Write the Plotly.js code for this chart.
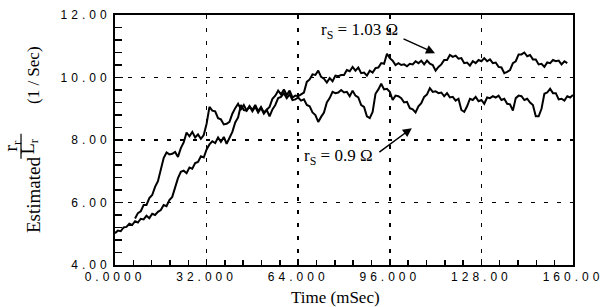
<!DOCTYPE html>
<html>
<head>
<meta charset="utf-8">
<script src="https://cdn.plot.ly/plotly-3.0.1.min.js"></script>
<style>
  html, body { margin: 0; padding: 0; background: #fff; }
  .xtick text, .ytick text { letter-spacing: 4px; }
</style>
</head>
<body>
<div id="chart" style="width:603px;height:307px;"></div>
<script>
// ---- data ----
// series rs = 0.9 ohm, sampled every 1 ms from t = 0
var startRs09 = 0;
var rs09 = [
5.02,5.10,5.08,5.20,5.22,5.32,5.28,5.40,5.36,5.48,
5.46,5.58,5.50,5.64,5.60,5.70,5.76,5.92,5.88,6.08,
6.18,6.48,6.78,6.98,7.02,6.94,7.12,7.08,7.26,7.30,
7.48,7.44,7.70,7.86,7.96,7.90,8.08,7.94,8.10,7.88,
8.08,8.26,8.56,8.72,9.12,8.96,8.94,9.08,8.92,9.06,
8.88,9.02,8.84,8.96,8.76,8.98,9.12,9.34,9.38,9.50,
9.34,9.46,9.28,9.30,9.36,9.26,9.30,9.12,9.08,8.88,
8.80,8.58,8.74,8.88,9.20,9.34,9.54,9.50,9.52,9.60,
9.52,9.54,9.40,9.58,9.42,9.36,9.12,9.06,8.76,8.70,
8.90,9.48,9.62,9.80,9.62,9.64,9.54,9.28,9.42,9.40,
9.34,9.20,9.22,9.02,8.98,8.88,9.08,9.18,9.38,9.46,
9.66,9.54,9.56,9.50,9.52,9.40,9.50,9.36,9.38,9.26,
9.32,8.96,8.90,9.08,9.32,9.28,9.38,9.24,9.28,9.16,
9.36,9.34,9.40,9.36,9.42,9.28,9.32,9.16,9.14,8.94,
9.34,9.42,9.40,9.28,9.32,9.20,9.12,8.76,8.76,9.00,
9.48,9.52,9.64,9.50,9.50,9.30,9.32,9.26,9.40,9.36,
9.44
];
// series rs = 1.03 ohm, sampled every 1 ms from t = 7
var startRs103 = 7;
var rs103 = [
5.49,5.66,5.72,5.92,5.92,6.14,6.24,6.50,6.68,7.10,
7.42,7.60,7.54,7.56,7.62,7.46,7.74,7.92,8.24,8.12,
8.26,8.08,8.18,8.04,8.16,8.52,9.06,8.94,8.92,8.70,
8.66,8.50,8.52,8.58,8.84,9.02,9.16,8.98,9.12,8.94,
9.08,8.96,9.12,8.92,9.06,8.88,8.98,9.06,9.32,9.42,
9.58,9.46,9.62,9.44,9.58,9.36,9.42,9.40,9.46,9.52,
9.86,9.94,10.10,10.08,10.22,10.02,9.96,9.84,9.98,9.88,
10.06,10.04,10.08,10.08,10.24,10.20,10.34,10.22,10.32,10.14,
10.16,10.06,10.22,10.16,10.30,10.32,10.46,10.44,10.76,10.62,
10.54,10.40,10.46,10.40,10.42,10.36,10.44,10.42,10.52,10.46,
10.54,10.42,10.54,10.44,10.40,10.22,10.34,10.42,10.56,10.56,
10.72,10.66,10.70,10.60,10.62,10.46,10.48,10.38,10.52,10.46,
10.56,10.52,10.62,10.52,10.58,10.46,10.48,10.34,10.32,10.14,
10.18,10.24,10.46,10.52,10.74,10.74,10.80,10.68,10.72,10.58,
10.58,10.42,10.44,10.34,10.48,10.46,10.56,10.52,10.54,10.42,
10.52,10.46
];
var sampleStep = 1; // ms

var xTickVals = [0, 32, 64, 96, 128, 160];
var xTickText = ["0.0000", "32.000", "64.000", "96.000", "128.00", "160.00"];
var yTickVals = [4, 6, 8, 10, 12];
var yTickText = ["4.00", "6.00", "8.00", "10.00", "12.00"];

var labelTop = "r<sub>S</sub> = 1.03 \u03A9";
var labelBottom = "r<sub>S</sub> = 0.9 \u03A9";
var xTitle = "Time (mSec)";
var yTitleWord = "Estimated";
var yTitleNum = "r<sub>r</sub>";
var yTitleDen = "L<sub>r</sub>";
var yTitleUnit = "(1 / Sec)";

// ---- build traces ----
function times(start, n) {
  var t = [];
  for (var i = 0; i < n; i++) t.push(start + i * sampleStep);
  return t;
}

var serif = "Liberation Serif, Times New Roman, serif";
var lineStyle = { color: "#000", width: 2 };

var traces = [
  { x: times(startRs09, rs09.length), y: rs09, type: "scatter", mode: "lines",
    line: lineStyle, hoverinfo: "skip", showlegend: false },
  { x: times(startRs103, rs103.length), y: rs103, type: "scatter", mode: "lines",
    line: lineStyle, hoverinfo: "skip", showlegend: false }
];

var axisCommon = {
  showline: true, linecolor: "#000", linewidth: 2, mirror: true,
  ticks: "inside", tickcolor: "#000", tickwidth: 1.5,
  showgrid: true, gridcolor: "#000", gridwidth: 1.5, griddash: "4px,9px",
  zeroline: false, tickmode: "array", ticklabeloverflow: "allow",
  tickfont: { family: "Liberation Sans, Arial, sans-serif", size: 12, color: "#000" }
};

function rotated(x, y, text, size) {
  return { xref: "paper", yref: "paper", x: x, y: y, xanchor: "center", yanchor: "middle",
    textangle: -90, text: text, showarrow: false,
    font: { family: serif, size: size, color: "#000" } };
}

var layout = {
  width: 603, height: 307,
  margin: { l: 115, r: 30, t: 15, b: 42, autoexpand: false },
  paper_bgcolor: "#fff", plot_bgcolor: "#fff",
  showlegend: false,
  xaxis: Object.assign({}, axisCommon, {
    range: [0, 160], tickvals: xTickVals, ticktext: xTickText, ticklen: 6,
    minor: { dtick: 6.4, ticks: "inside", ticklen: 5, tickcolor: "#000", tickwidth: 1.5, showgrid: false }
  }),
  yaxis: Object.assign({}, axisCommon, {
    range: [4, 12], tickvals: yTickVals, ticktext: yTickText, ticklen: 8,
    minor: { dtick: 0.4, ticks: "inside", ticklen: 7, tickcolor: "#000", tickwidth: 1.5, showgrid: false }
  }),
  annotations: [
    { xref: "paper", yref: "paper", x: 0.4825, y: -0.128, yanchor: "middle", xanchor: "center",
      text: xTitle, showarrow: false, font: { family: serif, size: 17, color: "#000" } },
    rotated(-0.1790, 0.28, yTitleWord, 19),
    rotated(-0.1790, 0.76, yTitleUnit, 17),
    rotated(-0.2240, 0.476, yTitleNum, 19),
    rotated(-0.1870, 0.476, yTitleDen, 18),
    { xref: "x", yref: "y", x: 85.5, y: 11.49, xanchor: "center", yanchor: "middle",
      text: labelTop, showarrow: false, font: { family: serif, size: 17, color: "#000" } },
    { xref: "x", yref: "y", x: 78.2, y: 7.46, xanchor: "center", yanchor: "middle",
      text: labelBottom, showarrow: false, font: { family: serif, size: 17, color: "#000" } },
    { xref: "x", yref: "y", x: 111.8, y: 10.78, ax: -33, ay: -15, text: "", showarrow: true,
      arrowhead: 2, arrowsize: 1.2, arrowwidth: 1.5, arrowcolor: "#000" },
    { xref: "x", yref: "y", x: 103.7, y: 8.38, ax: -34, ay: 25, text: "", showarrow: true,
      arrowhead: 2, arrowsize: 1.2, arrowwidth: 1.5, arrowcolor: "#000" }
  ],
  shapes: [
    { type: "line", xref: "paper", yref: "paper", x0: -0.2052, x1: -0.2052, y0: 0.425, y1: 0.525,
      line: { color: "#000", width: 1.2 } }
  ]
};

Plotly.newPlot("chart", traces, layout, { displayModeBar: false, staticPlot: true });
</script>
</body>
</html>
